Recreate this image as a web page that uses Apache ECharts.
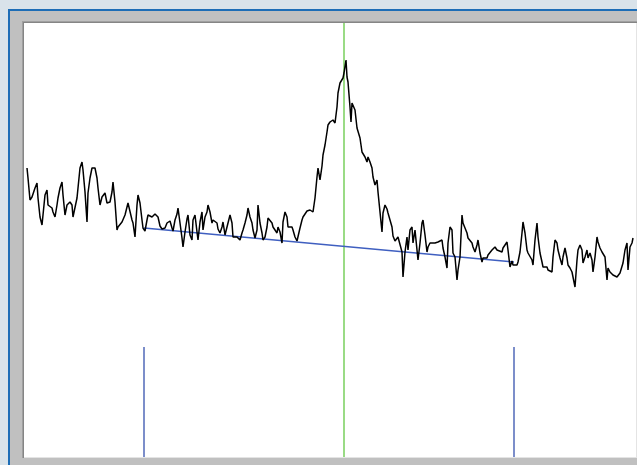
<!DOCTYPE html>
<html>
<head>
<meta charset="utf-8">
<script src="https://cdn.jsdelivr.net/npm/echarts@6/dist/echarts.min.js"></script>
<style>
html,body{margin:0;padding:0;background:#d9e3ea;}
#chart{width:637px;height:465px;}
</style>
</head>
<body>
<div id="chart"></div>
<script>
// Spectrum trace: [channel, intensity]
const spectrum = [
[27,289],[28,279],[30,257],[32,260],[33,259],[35,269],[37,274],[38,259],[40,240],[42,232],
[43,242],[45,262],[47,267],[48,252],[50,250],[52,249],[53,245],[55,240],[57,252],[58,259],
[60,269],[62,275],[63,262],[65,242],[67,252],[68,250],[70,255],[72,252],[73,240],[75,239],
[77,259],[78,269],[80,289],[82,295],[83,287],[85,265],[87,235],[88,264],[90,279],[92,289],
[93,290],[95,289],[97,279],[98,269],[100,252],[102,260],[103,259],[105,264],[107,254],[108,252],
[110,255],[112,265],[113,275],[115,255],[117,227],[118,230],[122,235],[125,242],[128,254],[130,252],
[132,237],[133,234],[135,220],[137,252],[138,262],[140,254],[142,237],[143,229],[145,226],[147,237],
[148,242],[152,240],[155,243],[157,245],[158,240],[160,231],[162,228],[165,229],[167,234],[170,236],
[172,229],[173,226],[175,237],[177,243],[178,249],[180,234],[182,219],[183,210],[185,225],[187,238],
[188,242],[190,222],[192,217],[193,237],[195,242],[197,225],[198,217],[200,235],[202,245],[203,227],
[205,240],[207,245],[208,252],[210,245],[212,234],[213,237],[217,234],[218,228],[220,224],[222,230],
[223,235],[225,222],[227,220],[228,234],[230,242],[232,234],[233,220],[235,219],[237,220],[238,220],
[240,217],[242,224],[243,227],[245,234],[247,242],[248,249],[250,240],[252,234],[253,227],[255,219],
[257,227],[258,252],[260,234],[262,224],[263,217],[265,220],[267,230],[268,239],[270,237],[272,234],
[273,230],[275,227],[277,224],[278,230],[280,225],[282,214],[283,235],[285,245],[287,240],[288,230],
[290,228],[292,230],[293,227],[295,220],[297,216],[298,215],[300,229],[302,237],[303,240],[305,242],
[307,246],[310,247],[313,245],[315,259],[317,280],[318,289],[320,277],[322,291],[323,302],[325,312],
[327,325],[328,332],[330,335],[333,337],[335,334],[337,350],[338,364],[340,374],[342,375],[343,379],
[344,384],[346,397],[347,380],[348,375],[350,350],[351,335],[352,354],[353,355],[355,347],[357,329],
[358,327],[360,319],[362,305],[363,304],[365,300],[367,295],[368,300],[370,295],[372,289],[373,280],
[375,272],[377,277],[378,265],[380,245],[382,225],[383,244],[385,252],[387,248],[388,244],[390,237],
[392,230],[393,221],[395,216],[397,215],[398,220],[400,222],[402,205],[403,180],[405,205],[407,220],
[408,207],[410,227],[412,230],[413,214],[415,227],[417,207],[418,197],[420,214],[422,234],[423,237],
[425,222],[427,205],[428,210],[430,214],[432,215],[435,214],[438,215],[442,217],[443,209],[445,200],
[447,189],[448,214],[450,230],[452,227],[453,204],[455,200],[457,177],[458,187],[460,200],[462,242],
[463,234],[465,232],[467,224],[468,219],[470,217],[472,214],[473,210],[475,205],[477,212],[478,217],
[480,204],[482,195],[483,199],[485,200],[487,199],[488,202],[490,204],[492,207],[493,209],[495,210],
[497,207],[498,205],[502,205],[503,209],[505,212],[507,215],[508,207],[510,190],[512,196],[513,192],
[515,193],[517,192],[518,195],[520,205],[522,224],[523,235],[525,224],[527,207],[528,204],[530,205],
[532,197],[533,192],[535,217],[537,234],[538,220],[540,204],[542,195],[543,190],[545,189],[547,190],
[548,187],[550,185],[552,185],[553,200],[555,217],[557,214],[558,207],[560,199],[562,192],[563,200],
[565,209],[567,199],[568,192],[570,189],[572,185],[573,180],[575,170],[577,197],[578,207],[580,212],
[582,207],[583,194],[585,200],[587,207],[588,199],[590,204],[592,197],[593,185],[595,200],[597,220],
[598,215],[600,209],[602,205],[603,207],[605,200],[607,177],[608,189],[610,185],[612,184],[613,182],
[615,180],[617,180],[618,182],[620,184],[622,185],[623,194],[625,207],[627,214],[628,187],[630,210],
[632,214],[633,219]
];
// Background baseline between the two region limits
const baselineX = [144, 514];
const baselineY = [229, 195];
// Region limit markers (channel) and their height
const limitChannels = [144, 514];
const limitHeight = 110;
// Peak centre marker (channel)
const peakChannel = 344;

const xMin = 24, xMax = 636, yMin = 0, yMax = 434;

const chart = echarts.init(document.getElementById('chart'), null, {renderer: 'canvas'});

const series = [
  {
    type: 'line', name: 'peak', z: 2,
    data: [[peakChannel, yMin], [peakChannel, yMax]],
    showSymbol: false, symbol: 'none',
    lineStyle: {color: '#79cf5c', width: 1.5}
  }
];
limitChannels.forEach(function (c) {
  series.push({
    type: 'line', z: 2,
    data: [[c, yMin], [c, limitHeight]],
    showSymbol: false, symbol: 'none',
    lineStyle: {color: '#5069b8', width: 1.5}
  });
});
series.push({
  type: 'line', name: 'baseline', z: 3,
  data: baselineX.map(function (x, i) { return [x, baselineY[i]]; }),
  showSymbol: false, symbol: 'none',
  lineStyle: {color: '#3f5fc0', width: 1.4}
});
series.push({
  type: 'line', name: 'spectrum', z: 4,
  data: spectrum,
  showSymbol: false, symbol: 'none',
  lineStyle: {color: '#000000', width: 1.5}
});

chart.setOption({
  animation: false,
  backgroundColor: 'transparent',
  graphic: [
    {type: 'rect', z: -10, shape: {x: 8, y: 9, width: 629, height: 456}, style: {fill: '#1d6db6'}},
    {type: 'rect', z: -9, shape: {x: 10, y: 11, width: 627, height: 454}, style: {fill: '#c0c0c0'}},
    {type: 'rect', z: -8, shape: {x: 22, y: 21, width: 615, height: 437}, style: {fill: '#a0a0a0'}},
    {type: 'rect', z: -7, shape: {x: 23, y: 22, width: 614, height: 436}, style: {fill: '#858585'}},
    {type: 'rect', z: -6, shape: {x: 24, y: 23, width: 613, height: 435}, style: {fill: '#e4e4e4'}},
    {type: 'rect', z: -5, shape: {x: 24, y: 23, width: 612, height: 434}, style: {fill: '#ffffff'}}
  ],
  grid: {left: 24, top: 23, width: 612, height: 434, show: false},
  xAxis: {type: 'value', min: xMin, max: xMax, show: false},
  yAxis: {type: 'value', min: yMin, max: yMax, show: false},
  series: series
});
</script>
</body>
</html>
